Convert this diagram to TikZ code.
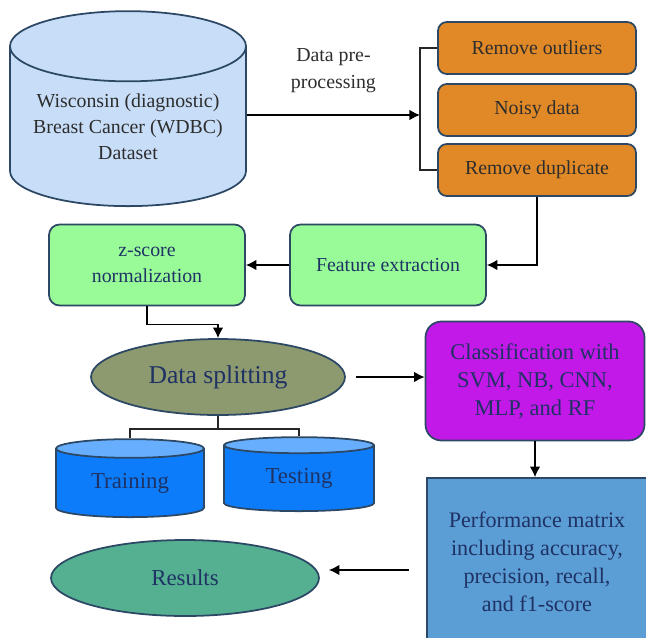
\documentclass[tikz,border=0pt]{standalone}
\usepackage{fontspec}
\newfontfamily\diagfont{Liberation Serif}
\usetikzlibrary{arrows.meta,shapes.geometric}

\definecolor{edgeblue}{RGB}{44,72,100}
\definecolor{inkblue}{RGB}{31,50,100}
\definecolor{inkgray}{RGB}{45,45,45}
\definecolor{dbfill}{RGB}{200,222,248}
\definecolor{prepfill}{RGB}{225,137,39}
\definecolor{stepgreen}{RGB}{152,251,152}
\definecolor{splitfill}{RGB}{141,153,110}
\definecolor{clsfill}{RGB}{194,24,232}
\definecolor{perffill}{RGB}{91,157,213}
\definecolor{resfill}{RGB}{85,176,146}
\definecolor{setbody}{RGB}{12,124,250}
\definecolor{settop}{RGB}{104,174,255}

\begin{document}
\begin{tikzpicture}[
  x=0.02cm, y=-0.02cm,
  >={Latex[length=6pt,width=6pt]},
  base font/.style={font=\diagfont\fontsize{11.3}{15}\selectfont},
  flow/.style={->, line width=0.8pt, draw=black},
  link/.style={line width=0.8pt, draw=black!85},
  db node/.style={cylinder, shape border rotate=90, draw=edgeblue, line width=1pt, inner sep=0pt, align=center},
  prep node/.style={rectangle, rounded corners=5pt, draw=edgeblue, line width=1pt, fill=prepfill, minimum width=3.96cm, minimum height=1.04cm, base font},
  step node/.style={rectangle, rounded corners=6pt, draw=edgeblue, line width=1pt, fill=stepgreen, minimum width=3.92cm, minimum height=1.62cm, align=center, base font},
  oval node/.style={ellipse, draw=edgeblue, line width=1pt, minimum height=1.52cm, inner sep=0pt},
  set node/.style={db node, cylinder uses custom fill, cylinder body fill=setbody, cylinder end fill=settop, aspect=0.24, font=\diagfont\fontsize{13}{15}\selectfont},
]
\useasboundingbox (0,0) rectangle (646,637);

% dataset and pre-processing
\node[db node, fill=dbfill, minimum width=4.72cm, minimum height=3.9cm, aspect=0.37, base font, anchor=south, text=inkgray] (data) at (128,207) {Wisconsin (diagnostic)\\Breast Cancer (WDBC)\\Dataset};
\node[prep node, text=inkgray] (out) at (537,48) {Remove outliers};
\node[prep node, text=inkgray] (noisy) at (537,110) {Noisy data};
\node[prep node, text=inkgray] (dup) at (537,170) {Remove duplicate};
\coordinate (prepin) at (420,115);

% features
\node[step node, text=inkblue] (feat) at (388,265) {Feature extraction};
\node[step node, text=inkblue] (zs) at (147,265) {z-score\\normalization};

% splitting
\node[oval node, fill=splitfill, minimum width=5.08cm, text=inkblue, font=\diagfont\fontsize{14.6}{17}\selectfont] (split) at (218,377) {Data splitting};
\node[set node, minimum width=2.96cm, minimum height=1.56cm, anchor=south, text=inkblue] (train) at (130,518) {Training};
\node[set node, minimum width=3.0cm, minimum height=1.48cm, anchor=south, text=inkblue] (test) at (299,512) {Testing};

% models and results
\node[rectangle, rounded corners=9pt, draw=edgeblue, line width=1pt, fill=clsfill, minimum width=4.38cm, minimum height=2.38cm, align=center, font=\diagfont\fontsize{12.8}{15.9}\selectfont, text=inkblue] (cls) at (535,381) {Classification with\\SVM, NB, CNN,\\MLP, and RF};
\node[rectangle, draw=edgeblue, line width=1pt, fill=perffill, minimum width=4.4cm, minimum height=3.36cm, align=center, font=\diagfont\fontsize{12.6}{15.9}\selectfont, text=inkblue] (perf) at (537,562) {Performance matrix\\including accuracy,\\precision, recall,\\and f1-score};
\node[oval node, fill=resfill, minimum width=5.36cm, font=\diagfont\fontsize{13}{15}\selectfont, text=inkblue] (res) at (185,578) {Results};
\coordinate (perfout) at ([yshift=-0.16cm]perf.west);

% connectors
\draw[flow] (data.east |- prepin) -- node[midway, above=0.32cm, align=center, base font, text=inkgray] {Data pre-\\processing} (prepin);
\draw[link] (out.west) -- (out.west -| prepin) -- (dup.west -| prepin) -- (dup.west);
\draw[flow] (dup.south) |- (feat.east);
\draw[flow] (feat.west) -- (zs.east);
\draw[flow] (zs.south) -- ++(0,18) -| (split.north);
\draw[flow, shorten <=0.2cm] (split.east) -- (split.east -| cls.west);
\coordinate (fork) at ([yshift=-0.26cm]split.south);
\draw[link] (split.south) -- (fork);
\draw[link] (train.north) |- (fork) -| (test.north);
\draw[flow] (cls.south) -- (cls.south |- perf.north);
\draw[flow, shorten <=0.34cm, shorten >=0.18cm] (perfout) -- (perfout -| res.east);
\end{tikzpicture}
\end{document}
